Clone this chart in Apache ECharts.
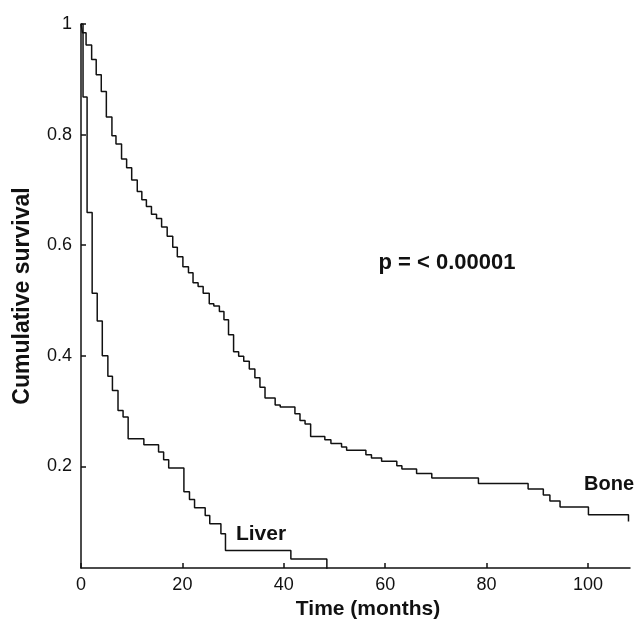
<!DOCTYPE html>
<html>
<head>
<meta charset="utf-8">
<script src="https://cdn.jsdelivr.net/npm/echarts@6/dist/echarts.min.js"></script>
<style>
  html, body { margin: 0; padding: 0; background: #fff; }
  #chart { width: 638px; height: 620px; }
</style>
</head>
<body>
<div id="chart"></div>
<script>
// Kaplan-Meier steps: time (months) and survival after each step
const boneTime = [0, 0.3, 1.0, 2.1, 3.0, 4.0, 5.0, 6.1, 6.9, 8.0, 9.0, 10.0, 11.1, 12.0, 12.9, 13.9, 14.9, 15.9, 17.0, 18.1, 19.0, 20.1, 21.2, 22.1, 23.1, 24.1, 25.3, 26.2, 27.3, 28.2, 29.1, 30.1, 31.1, 32.1, 33.2, 34.3, 35.3, 36.3, 38.3, 39.3, 42.2, 43.2, 44.2, 45.3, 48.1, 49.3, 51.4, 52.4, 56.2, 57.3, 59.3, 62.3, 63.3, 66.2, 69.2, 78.4, 88.2, 91.2, 92.5, 94.5, 100.1, 108.0];
const boneSurv = [1, 0.984, 0.962, 0.936, 0.908, 0.878, 0.832, 0.798, 0.783, 0.756, 0.740, 0.718, 0.697, 0.682, 0.670, 0.656, 0.648, 0.633, 0.616, 0.596, 0.579, 0.561, 0.550, 0.532, 0.525, 0.513, 0.494, 0.490, 0.480, 0.465, 0.438, 0.407, 0.399, 0.390, 0.376, 0.360, 0.343, 0.3235, 0.311, 0.307, 0.295, 0.283, 0.2765, 0.254, 0.248, 0.241, 0.235, 0.229, 0.221, 0.215, 0.209, 0.201, 0.195, 0.187, 0.179, 0.169, 0.159, 0.148, 0.137, 0.1265, 0.1125, 0.100];

const liverTime = [0, 0.4, 1.2, 2.2, 3.2, 4.2, 5.3, 6.2, 7.3, 8.3, 9.3, 12.4, 15.3, 16.3, 17.3, 20.3, 21.4, 22.4, 24.5, 25.4, 27.6, 28.5, 41.4, 48.5];
const liverSurv = [1, 0.868, 0.659, 0.513, 0.463, 0.400, 0.363, 0.337, 0.301, 0.289, 0.250, 0.239, 0.226, 0.212, 0.197, 0.154, 0.140, 0.125, 0.111, 0.096, 0.078, 0.0475, 0.0325, 0];

const xTicks = [0, 20, 40, 60, 80, 100];
const yTicks = [0.2, 0.4, 0.6, 0.8, 1];

const seriesNames = ['Bone', 'Liver'];
const pText = 'p = < 0.00001';
const xTitle = 'Time (months)';
const yTitle = 'Cumulative survival';

const zip = (a, b) => a.map((t, i) => [t, b[i]]);

const ink = '#111';
const font = 'Liberation Sans, Arial, Helvetica, sans-serif';

const chart = echarts.init(document.getElementById('chart'), null, { renderer: 'canvas' });

chart.setOption({
  animation: false,
  backgroundColor: '#fff',
  textStyle: { fontFamily: font, color: ink },
  grid: { left: 81, right: 8, top: 24, bottom: 52, outerBoundsMode: 'none' },
  xAxis: {
    type: 'value',
    min: 0,
    max: 108.3,
    splitLine: { show: false },
    axisLine: { lineStyle: { color: ink, width: 1.5 } },
    axisTick: { inside: true, length: 5, customValues: xTicks, lineStyle: { color: ink, width: 1.5 } },
    axisLabel: { customValues: xTicks, fontSize: 18, color: ink, margin: 8, fontFamily: font },
    name: xTitle,
    nameLocation: 'middle',
    nameGap: 29,
    nameTextStyle: { fontSize: 21, fontWeight: 'bold', color: ink, fontFamily: font, padding: [0, 0, 0, 25] }
  },
  yAxis: {
    type: 'value',
    min: 0.016,
    max: 1,
    splitLine: { show: false },
    axisLine: { lineStyle: { color: ink, width: 1.5 } },
    axisTick: { inside: true, length: 5, customValues: yTicks, lineStyle: { color: ink, width: 1.5 } },
    axisLabel: { customValues: yTicks, fontSize: 18, color: ink, margin: 9, fontFamily: font },
    name: yTitle,
    nameLocation: 'middle',
    nameRotate: 90,
    nameGap: 47,
    nameTextStyle: { fontSize: 23, fontWeight: 'bold', color: ink, fontFamily: font }
  },
  series: [
    {
      name: seriesNames[0],
      type: 'line',
      step: 'end',
      showSymbol: false,
      lineStyle: { color: ink, width: 1.5 },
      data: zip(boneTime, boneSurv)
    },
    {
      name: seriesNames[1],
      type: 'line',
      step: 'end',
      showSymbol: false,
      lineStyle: { color: ink, width: 1.5 },
      data: zip(liverTime, liverSurv)
    }
  ],
  graphic: [
    { type: 'text', x: 447, y: 263, style: { text: pText, fontSize: 22, fontWeight: 'bold', fontFamily: font, fill: ink, align: 'center', verticalAlign: 'middle' } },
    { type: 'text', x: 609, y: 484, style: { text: seriesNames[0], fontSize: 20, fontWeight: 'bold', fontFamily: font, fill: ink, align: 'center', verticalAlign: 'middle' } },
    { type: 'text', x: 261, y: 534, style: { text: seriesNames[1], fontSize: 21, fontWeight: 'bold', fontFamily: font, fill: ink, align: 'center', verticalAlign: 'middle' } }
  ]
});
</script>
</body>
</html>
